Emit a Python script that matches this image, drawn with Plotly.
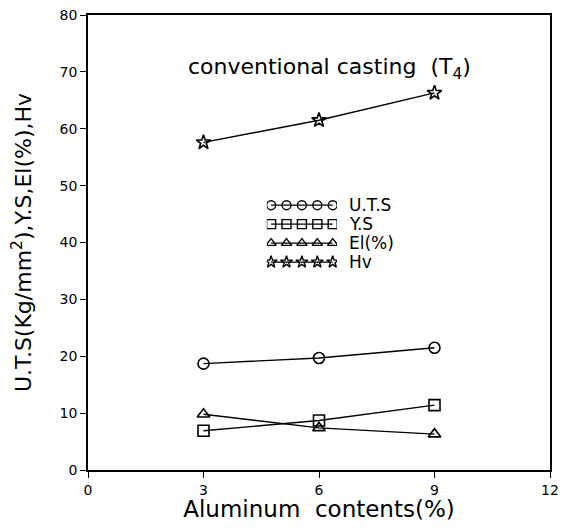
import plotly.graph_objects as go

aluminum = [3, 6, 9]
uts = [18.7, 19.7, 21.5]
ys = [6.9, 8.7, 11.4]
el = [9.8, 7.4, 6.3]
hv = [57.6, 61.5, 66.3]

series_names = ["U.T.S", "Y.S", "El(%)", "Hv"]
series_values = [uts, ys, el, hv]
series_symbols = ["circle-open", "square-open", "triangle-up-open", "star-open"]

x_ticks = [0, 3, 6, 9, 12]
y_ticks = [0, 10, 20, 30, 40, 50, 60, 70, 80]

FONT = "DejaVu Sans"
fig = go.Figure()

for name, vals, sym in zip(series_names, series_values, series_symbols):
    fig.add_trace(go.Scatter(
        x=aluminum, y=vals, mode="lines+markers", name=name,
        line=dict(color="black", width=1.4),
        marker=dict(symbol=sym, size=11, color="black", line=dict(width=1.6, color="black")),
        showlegend=False,
    ))

# custom legend (5 markers per sample, like the original) on an overlay axis
LEG_TOP, LEG_STEP = 0.582, 0.0417
leg_x = [0.0, 0.25, 0.5, 0.75, 1.0]
for i, (name, sym) in enumerate(zip(series_names, series_symbols)):
    fig.add_trace(go.Scatter(
        x=leg_x, y=[i] * 5, mode="lines+markers",
        line=dict(color="black", width=1.2),
        marker=dict(symbol=sym, size=9, color="black", line=dict(width=1.4, color="black")),
        xaxis="x2", yaxis="y2", showlegend=False, hoverinfo="skip",
    ))
    fig.add_annotation(x=0.56, y=LEG_TOP - i * LEG_STEP, xref="paper", yref="paper",
                       text=name, showarrow=False, xanchor="left", yanchor="middle",
                       font=dict(family=FONT, size=17, color="black"))

fig.add_annotation(x=0.522, y=0.919, xref="paper", yref="paper",
                   text="conventional casting  (T<sub>4</sub>)", showarrow=False,
                   font=dict(family=FONT, size=22, color="black"))

fig.update_layout(
    width=553, height=514,
    margin=dict(l=80, r=11, t=7, b=52),
    plot_bgcolor="white", paper_bgcolor="white",
    font=dict(family=FONT, color="black"),
    xaxis=dict(range=[0, 12], tickvals=x_ticks, showline=True, mirror=True,
               linecolor="black", linewidth=1.5, ticks="outside", ticklen=6,
               tickcolor="black", showgrid=False, zeroline=False, automargin=False,
               tickfont=dict(size=14), ticklabeloverflow="allow",
               title=dict(text="Aluminum  contents(%)", font=dict(size=23), standoff=5)),
    yaxis=dict(range=[0, 80], tickvals=y_ticks, showline=True, mirror=True,
               linecolor="black", linewidth=1.5, ticks="outside", ticklen=6,
               tickcolor="black", showgrid=False, zeroline=False, automargin=False,
               tickfont=dict(size=14), ticklabeloverflow="allow",
               title=dict(text="U.T.S(Kg/mm<sup>2</sup>),Y.S,El(%),Hv", font=dict(size=22), standoff=24)),
    xaxis2=dict(domain=[0.387, 0.539], range=[-0.07, 1.07], visible=False, anchor="y2",
                fixedrange=True),
    yaxis2=dict(domain=[0.44, 0.60], range=[3.408, -0.432], visible=False, anchor="x2",
                fixedrange=True),
)

fig.write_html("out.html")
